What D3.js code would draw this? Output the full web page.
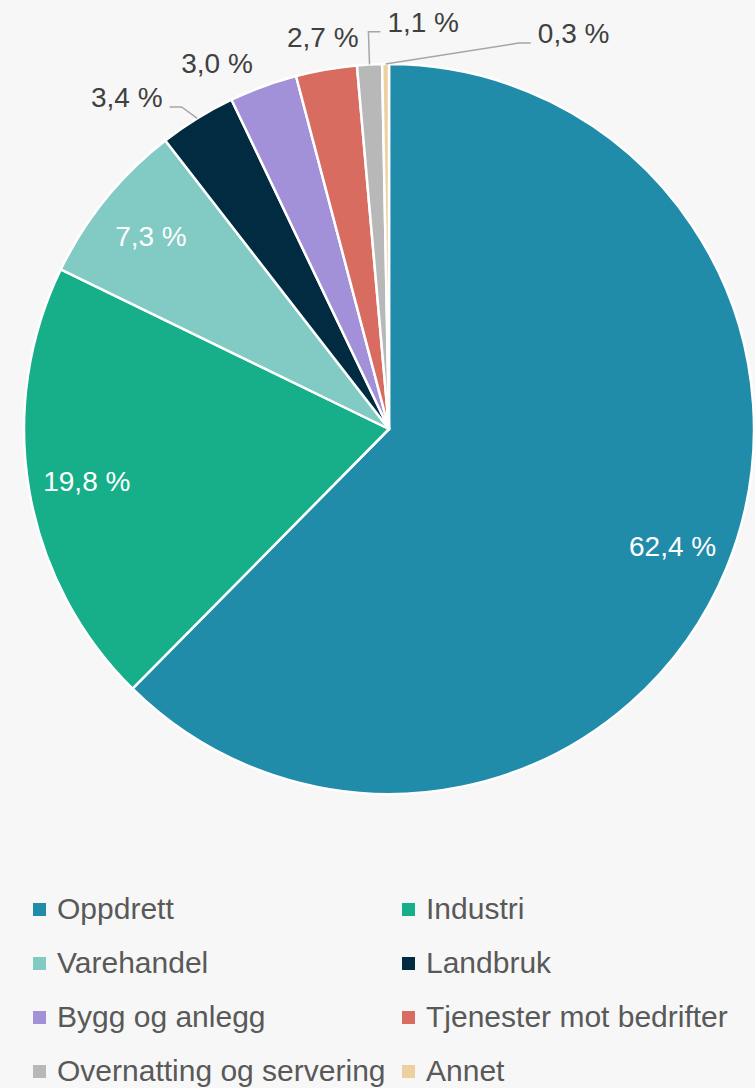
<!DOCTYPE html>
<html>
<head>
<meta charset="utf-8">
<script src="https://cdn.jsdelivr.net/npm/d3@7"></script>
<style>
  html, body { margin: 0; padding: 0; background: #f7f7f7; }
  svg { display: block; }
</style>
</head>
<body>
<div id="chart"></div>
<script>
// data
var categories = ["Oppdrett", "Industri", "Varehandel", "Landbruk", "Bygg og anlegg",
                  "Tjenester mot bedrifter", "Overnatting og servering", "Annet"];
var shares = [62.4, 19.8, 7.3, 3.4, 3.0, 2.7, 1.1, 0.3];
var colors = ["#218caa", "#17af8a", "#82cac4", "#002b40", "#a291d8", "#d96c61", "#b8b8b8", "#edd09f"];

var width = 755, height = 1088;
var cx = 389, cy = 429, radius = 365;

// where Excel put the small outside labels (angle in degrees from 12 o'clock, distance / radius)
var outsideLabel = {
  "Landbruk": [321.7, 1.159, true],
  "Bygg og anlegg": [334.8, 1.107, false],
  "Tjenester mot bedrifter": [350.4, 1.089, false],
  "Overnatting og servering": [4.8, 1.12, true],
  "Annet": [25.0, 1.197, true]
};

var fmt = function(v) { return v.toFixed(1).replace(".", ",") + " %"; };

var rows = categories.map(function(c, i) { return {name: c, value: shares[i], color: colors[i]}; });

var svg = d3.select("#chart")
  .append("svg")
    .attr("width", width)
    .attr("height", height);

svg.append("rect")
  .attr("width", width)
  .attr("height", height)
  .attr("fill", "#f7f7f7");

var g = svg.append("g")
  .attr("transform", "translate(" + cx + "," + cy + ")");

var pie = d3.pie()
  .sort(null)
  .value(function(d) { return d.value; });

var arc = d3.arc()
  .innerRadius(0)
  .outerRadius(radius);

var labelArc = d3.arc()
  .innerRadius(radius * 0.84)
  .outerRadius(radius * 0.84);

var arcs = pie(rows);

g.selectAll("path.slice")
  .data(arcs)
  .enter()
  .append("path")
    .attr("class", "slice")
    .attr("d", arc)
    .attr("fill", function(d) { return d.data.color; })
    .attr("stroke", "#ffffff")
    .attr("stroke-width", 2.5)
    .attr("stroke-linejoin", "round");

// labels inside the big slices
g.selectAll("text.inner")
  .data(arcs.filter(function(d) { return !outsideLabel[d.data.name]; }))
  .enter()
  .append("text")
    .attr("class", "inner")
    .attr("transform", function(d) { return "translate(" + labelArc.centroid(d) + ")"; })
    .attr("dy", "0.36em")
    .attr("text-anchor", "middle")
    .attr("font-family", "'Liberation Sans', Arial, sans-serif")
    .attr("font-size", 28)
    .attr("fill", "#ffffff")
    .text(function(d) { return fmt(d.data.value); });

// labels outside the small slices, with leader lines
arcs.filter(function(d) { return outsideLabel[d.data.name]; }).forEach(function(d) {
  var o = outsideLabel[d.data.name];
  var a = o[0] * Math.PI / 180;
  var lx = Math.sin(a) * radius * o[1];
  var ly = -Math.cos(a) * radius * o[1];

  var t = g.append("text")
    .attr("x", lx)
    .attr("y", ly)
    .attr("dy", "0.36em")
    .attr("text-anchor", "middle")
    .attr("font-family", "'Liberation Sans', Arial, sans-serif")
    .attr("font-size", 28)
    .attr("fill", "#404040")
    .text(fmt(d.data.value));

  if (o[2]) {
    var w = t.node().getComputedTextLength();
    var mid = (d.startAngle + d.endAngle) / 2;
    var px = Math.sin(mid) * radius, py = -Math.cos(mid) * radius;
    var side = lx < px ? 1 : -1;           // label left of slice -> line leaves its right edge
    var ex = lx + side * (w / 2 + 7);
    var ey = ly + 10;
    var kx = ex + side * 12;
    g.append("polyline")
      .attr("points", [[ex, ey], [kx, ey], [px, py]].map(function(p) { return p.join(","); }).join(" "))
      .attr("fill", "none")
      .attr("stroke", "#a6a6a6")
      .attr("stroke-width", 1.5);
  }
});

// legend, two columns
var legend = svg.append("g")
  .attr("transform", "translate(33,919)");

var item = legend.selectAll("g.item")
  .data(rows)
  .enter()
  .append("g")
    .attr("class", "item")
    .attr("transform", function(d, i) { return "translate(" + (i % 2) * 369 + "," + Math.floor(i / 2) * 54 + ")"; });

item.append("rect")
  .attr("x", 0)
  .attr("y", -16)
  .attr("width", 13)
  .attr("height", 13)
  .attr("fill", function(d) { return d.color; });

item.append("text")
  .attr("x", 24)
  .attr("y", 0)
  .attr("font-family", "'Liberation Sans', Arial, sans-serif")
  .attr("font-size", 30)
  .attr("fill", "#595959")
  .text(function(d) { return d.name; });
</script>
</body>
</html>
